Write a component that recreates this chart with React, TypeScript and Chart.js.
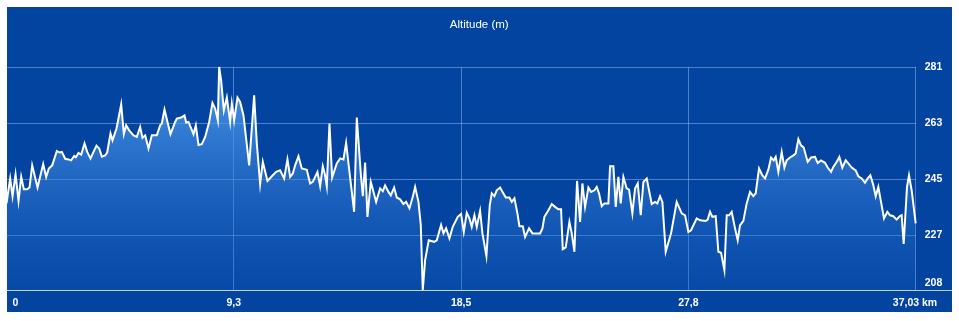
import React, { useEffect, useRef } from "react";
import { Chart, registerables } from "chart.js";

Chart.register(...registerables);

const chartTitle = "Altitude (m)";

const distanceKm = [
  0, 0.15, 0.246, 0.368, 0.49, 0.599, 0.707, 0.843, 0.938, 1.046, 1.264, 1.494, 1.616, 1.725, 1.861, 2.051, 2.159, 2.255, 2.39, 2.526,
  2.634, 2.757, 2.825, 2.933, 3.042, 3.177, 3.286, 3.422, 3.544, 3.666, 3.775, 3.883, 4.019, 4.1, 4.236, 4.318, 4.48, 4.671, 4.779, 4.874,
  4.996, 5.173, 5.308, 5.444, 5.539, 5.648, 5.783, 5.919, 6.123, 6.258, 6.326, 6.435, 6.571, 6.679, 6.869, 6.937, 7.114, 7.249, 7.317, 7.412,
  7.494, 7.616, 7.711, 7.82, 7.955, 8.091, 8.254, 8.389, 8.498, 8.607, 8.661, 8.742, 8.851, 8.973,
  9.109, 9.177, 9.272, 9.408, 9.516, 9.652, 9.883, 10.086, 10.195, 10.33, 10.439, 10.629, 10.806, 10.982, 11.145, 11.308, 11.443, 11.552, 11.661, 11.756,
  11.891, 12.027, 12.231, 12.366, 12.475, 12.665, 12.774, 12.882, 12.964, 13.045, 13.154, 13.262, 13.452, 13.588, 13.724, 13.832, 13.968, 14.158, 14.267, 14.429,
  14.511, 14.606, 14.701, 14.837, 15.054, 15.217, 15.325, 15.42, 15.556, 15.651, 15.787, 15.895, 16.031, 16.167, 16.275, 16.411, 16.547, 16.642, 16.778, 16.873,
  16.954, 17.049, 17.198, 17.416, 17.524, 17.7, 17.796, 17.904, 18.04, 18.175,
  18.379, 18.515, 18.624, 18.746, 18.854, 18.949, 19.058, 19.153, 19.289, 19.384, 19.546, 19.682, 19.764, 19.872, 19.967, 20.103, 20.239, 20.334, 20.483, 20.578,
  20.687, 20.809, 20.89, 21.026, 21.121, 21.284, 21.42, 21.596, 21.732, 21.827, 21.908, 22.071, 22.207, 22.342, 22.478, 22.587, 22.655, 22.777, 22.926, 23.021,
  23.13, 23.238, 23.361, 23.455, 23.564, 23.7, 23.808, 23.944, 24.039, 24.134, 24.243, 24.351, 24.514, 24.582, 24.718, 24.813, 24.921, 25.016, 25.125, 25.261,
  25.356, 25.491, 25.6, 25.709, 25.831, 25.939, 26.075, 26.279, 26.414, 26.509, 26.618, 26.713, 26.849, 27.066, 27.296, 27.5, 27.636,
  27.772, 27.88, 28.111, 28.247, 28.478, 28.559, 28.654, 28.749, 28.885, 28.993, 29.102, 29.238, 29.333, 29.428, 29.536, 29.672, 29.78, 29.875, 30.011, 30.147,
  30.283, 30.418, 30.513, 30.649, 30.785, 30.894, 31.029, 31.138, 31.246, 31.328, 31.436, 31.572, 31.681, 31.776, 31.912, 32.047, 32.142, 32.251, 32.359, 32.468,
  32.631, 32.767, 32.929, 33.038, 33.174, 33.337, 33.445, 33.581, 33.676, 33.812, 33.92, 34.042, 34.178, 34.287, 34.423, 34.585, 34.694, 34.83, 34.965, 35.074,
  35.183, 35.305, 35.4, 35.508, 35.617, 35.739, 35.875, 35.984, 36.119, 36.255, 36.391, 36.458, 36.54, 36.676, 36.757, 36.866, 37.03,
];

const altitudeM = [
  237.3, 245.3, 239.6, 246.6, 238.1, 245.8, 241.8, 241.8, 242.4, 249.5, 242.4, 249.9, 245.8, 248.5, 249.5, 254.1, 253.6, 253.8, 251.6, 251.4,
  251.1, 252.5, 252.1, 253.5, 252.9, 256.5, 253.8, 251.7, 253.8, 255.8, 254.9, 252.3, 252.7, 253.6, 259.7, 257.5, 261.3, 269.0, 259.5, 262.3,
  260.7, 259.1, 258.6, 261.8, 258.3, 259.1, 254.9, 259.1, 259.1, 262.3, 262.9, 267.4, 262.9, 259.5, 263.4, 264.5, 264.8, 265.5, 263.2, 263.4,
  261.8, 259.5, 262.3, 256.0, 256.3, 258.6, 263.4, 269.5, 267.7, 263.9, 281.0, 276.7, 267.1, 271.2,
  263.4, 269.3, 263.9, 271.2, 269.8, 265.5, 249.5, 271.9, 256.5, 243.5, 250.6, 244.5, 246.0, 247.4, 247.9, 245.3, 251.4, 245.8, 246.9, 249.5,
  252.4, 248.5, 248.1, 243.7, 244.2, 247.4, 242.8, 249.2, 246.7, 242.8, 262.9, 245.6, 250.1, 251.7, 251.4, 256.7, 247.4, 234.6, 264.8, 246.9,
  239.6, 250.4, 233.0, 244.2, 237.8, 242.1, 241.2, 243.1, 241.0, 239.9, 242.4, 239.2, 238.6, 237.1, 237.8, 235.7, 239.4, 242.6, 237.8, 230.4,
  209.5, 219.1, 225.5, 225.0, 225.5, 230.4, 227.7, 229.3, 226.1, 229.8,
  233.0, 233.9, 228.2, 234.3, 232.5, 229.8, 233.5, 229.8, 234.9, 227.7, 220.4, 236.7, 240.5, 239.6, 241.5, 242.4, 240.5, 239.2, 239.2, 237.8,
  238.9, 234.1, 230.0, 230.0, 226.6, 229.3, 227.7, 227.7, 227.7, 229.3, 233.0, 235.1, 237.1, 236.2, 235.4, 235.4, 222.6, 223.2, 231.4, 227.7,
  221.8, 244.5, 231.4, 243.7, 236.2, 242.4, 241.0, 241.5, 242.6, 240.5, 236.4, 237.3, 237.3, 249.2, 249.2, 236.2, 245.8, 237.3, 245.8, 242.1,
  241.7, 234.1, 242.1, 243.7, 233.5, 244.2, 245.3, 237.1, 237.8, 237.3, 239.6, 237.8, 221.8, 227.7, 237.8, 234.1, 233.5,
  228.2, 228.7, 232.5, 231.9, 231.7, 232.1, 234.6, 233.0, 233.2, 221.8, 221.5, 215.9, 233.5, 233.5, 234.6, 229.3, 225.5, 230.3, 231.7, 237.3,
  241.0, 239.6, 240.5, 248.5, 246.3, 245.3, 248.1, 252.0, 251.1, 252.2, 247.4, 253.8, 248.8, 251.1, 252.0, 252.7, 253.3, 257.9, 255.9, 255.2,
  250.6, 252.0, 252.2, 250.3, 251.1, 250.3, 248.8, 247.4, 249.0, 250.6, 252.2, 248.8, 251.1, 250.1, 248.8, 247.9, 246.0, 245.3, 243.9, 245.3,
  246.3, 243.1, 239.6, 242.6, 237.8, 232.5, 234.6, 233.5, 233.2, 232.1, 233.3, 233.5, 224.3, 242.6, 246.3, 241.5, 230.9,
];

const xTickValues = [0, 9.2575, 18.515, 27.7725, 37.03];
const xTickLabels = ["0", "9,3", "18,5", "27,8", "37,03 km"];
const yTickValues = [209.5, 227, 245, 263, 281];
const yTickLabels = ["208", "227", "245", "263", "281"];

const FONT = 'Helvetica, Arial, "Liberation Sans", sans-serif';
const PANEL_BG = "rgb(3,68,160)";
const GRID_COLOR = "rgba(140,180,240,0.55)";

export default function App() {
  const canvasRef = useRef<HTMLCanvasElement | null>(null);

  useEffect(() => {
    const canvas = canvasRef.current;
    if (!canvas) return;

    const panelPlugin = {
      id: "panelPlugin",
      beforeDraw(chart: any) {
        const ctx = chart.ctx;
        ctx.save();
        ctx.fillStyle = PANEL_BG;
        ctx.fillRect(7, 7, 945, 305);
        ctx.restore();
      },
      afterDraw(chart: any) {
        const { ctx, chartArea, scales } = chart;
        const xs = scales.x;
        const ys = scales.y;
        ctx.save();
        const by = Math.round(chartArea.bottom) + 0.5;
        ctx.strokeStyle = "rgba(200,222,252,0.9)";
        ctx.lineWidth = 1.2;
        ctx.beginPath();
        ctx.moveTo(7, by);
        ctx.lineTo(952, by);
        ctx.stroke();

        ctx.fillStyle = "#ffffff";
        ctx.font = `bold 10.5px ${FONT}`;
        ctx.textBaseline = "middle";
        xTickValues.forEach((v, i) => {
          const px = xs.getPixelForValue(v);
          let align: CanvasTextAlign = "center";
          let tx = px;
          if (i === 0) {
            align = "left";
            tx = px + 6;
          } else if (i === xTickValues.length - 1) {
            align = "right";
            tx = px + 21.5;
          }
          ctx.textAlign = align;
          ctx.fillText(xTickLabels[i], tx, chartArea.bottom + 13.3);
        });
        ctx.textAlign = "left";
        yTickValues.forEach((v, i) => {
          const py = Math.min(ys.getPixelForValue(v), chartArea.bottom - 7.4);
          ctx.fillText(yTickLabels[i], chartArea.right + 9, py);
        });
        ctx.restore();
      },
    };

    const chart = new Chart(canvas, {
      type: "line",
      data: {
        datasets: [
          {
            label: chartTitle,
            data: distanceKm.map((x, i) => ({ x, y: altitudeM[i] })),
            borderColor: "#ffffff",
            borderWidth: 2,
            pointRadius: 0,
            tension: 0,
            fill: "start",
            clip: false as any,
            backgroundColor: (c: any) => {
              const ca = c.chart.chartArea;
              if (!ca) return "rgba(60,140,225,0.6)";
              const g = c.chart.ctx.createLinearGradient(0, ca.top, 0, ca.bottom);
              g.addColorStop(0, "rgba(95,175,255,0.82)");
              g.addColorStop(1, "rgba(20,90,190,0.25)");
              return g;
            },
          },
        ],
      },
      options: {
        animation: false,
        responsive: false,
        layout: { padding: { left: 6.5, right: 7, top: 7, bottom: 30.8 } },
        plugins: {
          legend: { display: false },
          tooltip: { enabled: false },
          title: {
            display: true,
            text: chartTitle,
            color: "#ffffff",
            font: { family: FONT, size: 11.5, weight: "normal" },
            padding: { top: 11, bottom: 35.2 },
          },
        },
        scales: {
          x: {
            type: "linear",
            min: 0,
            max: 37.03,
            afterBuildTicks: (s: any) => {
              s.ticks = xTickValues.map((value) => ({ value }));
            },
            afterFit: (s: any) => {
              s.height = 0;
            },
            ticks: { display: false },
            border: { display: false },
            grid: {
              drawTicks: false,
              lineWidth: 1,
              color: (c: any) => (c.index === 0 ? "rgba(0,0,0,0)" : GRID_COLOR),
            },
          },
          y: {
            type: "linear",
            position: "right",
            min: 209.5,
            max: 281,
            afterBuildTicks: (s: any) => {
              s.ticks = yTickValues.map((value) => ({ value }));
            },
            afterFit: (s: any) => {
              s.width = 36.3;
            },
            ticks: { display: false },
            border: { display: false },
            grid: { drawTicks: false, lineWidth: 1, color: GRID_COLOR },
          },
        },
      },
      plugins: [panelPlugin],
    });

    return () => chart.destroy();
  }, []);

  return (
    <div style={{ position: "absolute", left: 0, top: 0, width: 959, height: 321, background: "#ffffff" }}>
      <canvas ref={canvasRef} width={959} height={321} style={{ display: "block" }} />
    </div>
  );
}
